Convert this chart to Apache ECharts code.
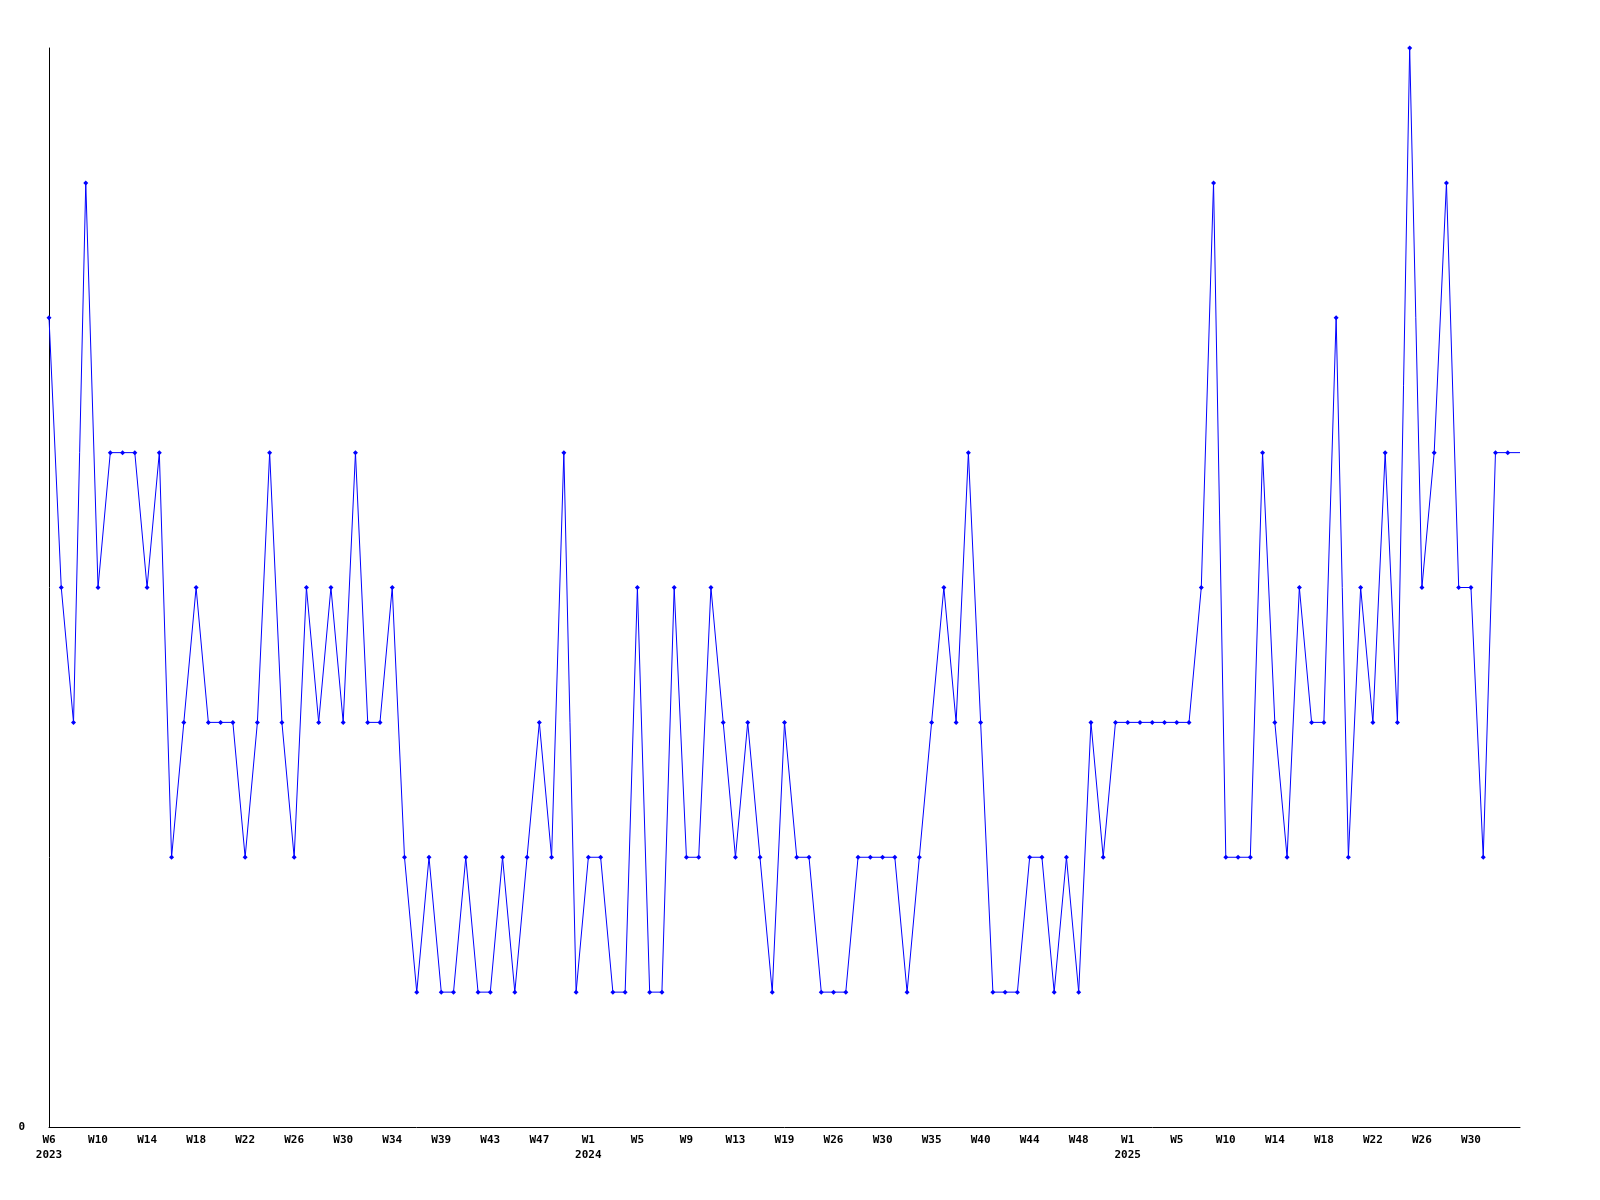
<!DOCTYPE html>
<html>
<head>
<meta charset="utf-8">
<script src="https://cdn.jsdelivr.net/npm/echarts@6/dist/echarts.min.js"></script>
<style>html,body{margin:0;padding:0;background:#fff}#c{width:1600px;height:1200px}</style>
</head>
<body>
<div id="c"></div>
<script>
// Week categories (year-week)
const weeks2023 = ["W6","W7","W8","W9","W10","W11","W12","W13","W14","W15","W16","W17","W18","W19","W20","W21","W22","W23","W24","W25","W26","W27","W28","W29","W30","W31","W32","W33","W34","W35","W36","W38","W39","W40","W41","W42","W43","W44","W45","W46","W47","W48","W49","W50"];
const weeks2024 = ["W1","W2","W3","W4","W5","W6","W7","W8","W9","W10","W11","W12","W13","W14","W16","W17","W19","W20","W22","W24","W26","W27","W28","W29","W30","W31","W32","W34","W35","W36","W37","W39","W40","W41","W42","W43","W44","W45","W46","W47","W48","W49","W50","W51"];
const weeks2025 = ["W1","W2","W3","W4","W5","W6","W7","W9","W10","W11","W12","W13","W14","W15","W16","W17","W18","W19","W20","W21","W22","W23","W24","W25","W26","W27","W28","W29","W30","W31","W32","W33","W34"];
const categories = [].concat(
  weeks2023.map(w => "2023-" + w),
  weeks2024.map(w => "2024-" + w),
  weeks2025.map(w => "2025-" + w)
);
const values = [6,4,3,7,4,5,5,5,4,5,2,3,4,3,3,3,2,3,5,3,2,4,3,4,3,5,3,3,4,2,1,2,1,1,2,1,1,2,1,2,3,2,5,1,2,2,1,1,4,1,1,4,2,2,4,3,2,3,2,1,3,2,2,1,1,1,2,2,2,2,1,2,3,4,3,5,3,1,1,1,2,2,1,2,1,3,2,3,3,3,3,3,3,3,4,7,2,2,2,5,3,2,4,3,3,6,2,4,3,5,3,8,4,5,7,4,4,2,5,5,5];
const yTicks = [0];

const chart = echarts.init(document.getElementById('c'), null, {renderer: 'canvas'});
const lastIdx = values.length - 1;
chart.setOption({
  animation: false,
  backgroundColor: '#ffffff',
  grid: {left: 49, right: 80, top: 48, bottom: 73, containLabel: false},
  xAxis: {
    type: 'category',
    data: categories,
    boundaryGap: false,
    axisLine: {show: true, lineStyle: {color: '#000', width: 1}},
    axisTick: {show: false},
    splitLine: {show: false},
    axisLabel: {
      interval: (i) => i % 4 === 0 && i < lastIdx,
      hideOverlap: false,
      margin: 6,
      color: '#000',
      fontFamily: 'DejaVu Sans Mono',
      fontWeight: 'bold',
      fontSize: 11,
      lineHeight: 15,
      formatter: (v, i) => {
        const [yr, wk] = v.split('-');
        return (i === 0 || wk === 'W1') ? wk + '\n' + yr : wk;
      }
    }
  },
  yAxis: {
    type: 'value',
    min: 0,
    max: 8,
    interval: 8,
    axisLine: {show: true, lineStyle: {color: '#000', width: 1}},
    axisTick: {show: false},
    splitLine: {show: false},
    axisLabel: {
      margin: 24,
      color: '#000',
      fontFamily: 'DejaVu Sans Mono',
      fontWeight: 'bold',
      fontSize: 11,
      formatter: (v) => yTicks.includes(v) ? String(v) : ''
    }
  },
  series: [{
    type: 'line',
    data: values.map((v, i) => i === lastIdx ? {value: v, symbol: 'none'} : v),
    symbol: 'diamond',
    symbolSize: 5,
    showAllSymbol: true,
    lineStyle: {color: '#0000ff', width: 1},
    itemStyle: {color: '#0000ff'},
    emphasis: {disabled: true}
  }]
});
</script>
</body>
</html>
